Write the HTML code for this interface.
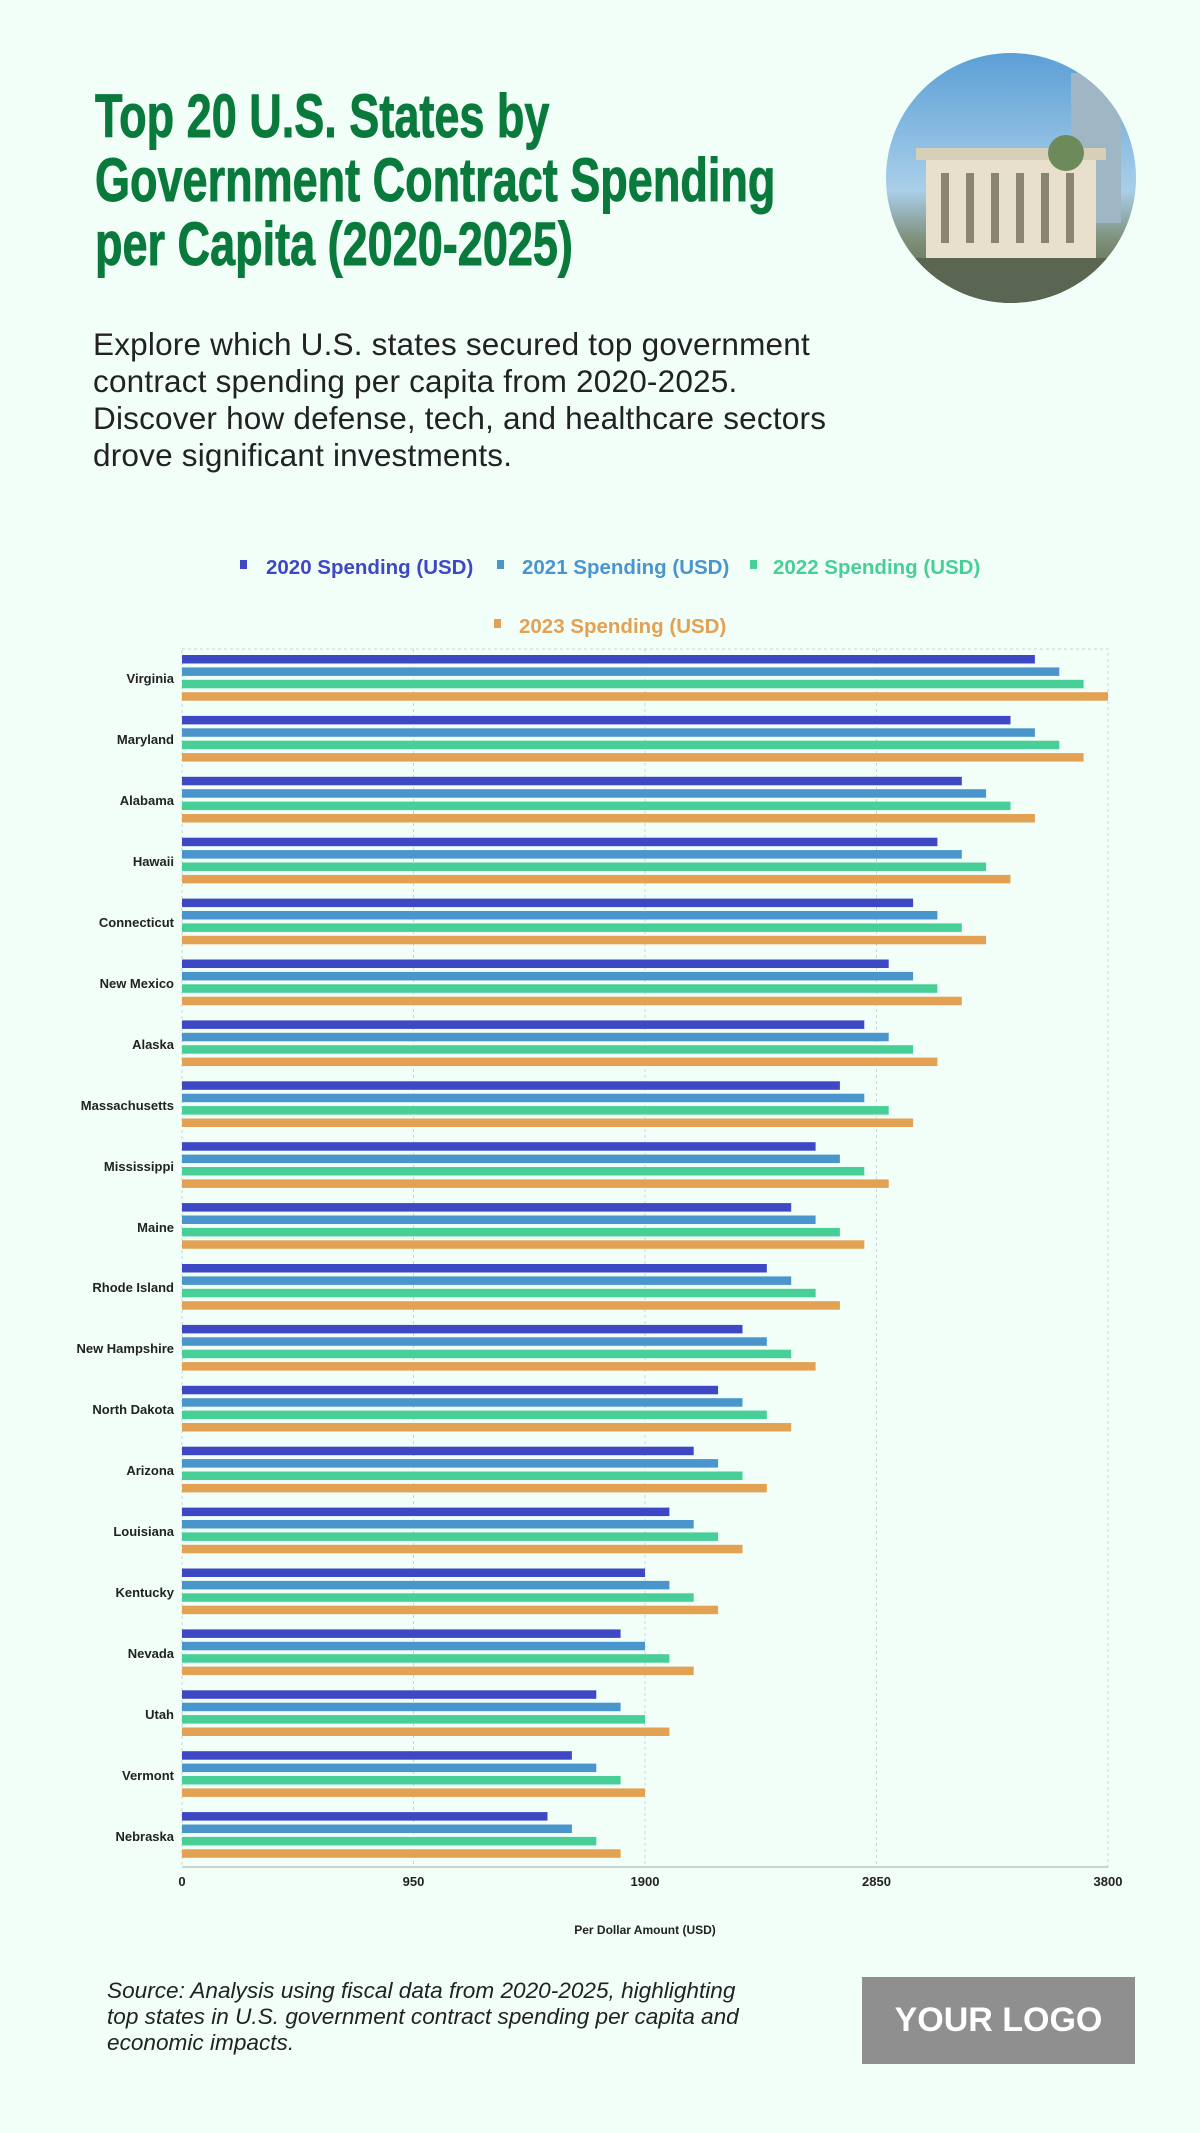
<!DOCTYPE html>
<html><head><meta charset="utf-8">
<style>
body{margin:0;background:#f2fff9;}
.wrap{position:relative;width:1200px;height:2133px;overflow:hidden;background:#f2fff9;font-family:"Liberation Sans",sans-serif;}
.title{position:absolute;left:95px;top:84px;font-weight:bold;font-size:61px;line-height:64px;color:#0a7a3c;transform:scaleX(0.738);transform-origin:top left;white-space:nowrap;-webkit-text-stroke:1px #0a7a3c;}
.sub{position:absolute;left:93px;top:326px;font-size:31.5px;line-height:37px;color:#222;letter-spacing:0.2px;white-space:nowrap;}
.circle{position:absolute;left:886px;top:53px;width:250px;height:250px;border-radius:50%;overflow:hidden;background:linear-gradient(#5c9fd6,#a9cfe9 55%,#7d8f78 75%,#4f5a48);}
.src{position:absolute;left:107px;top:1978px;font-size:22.6px;line-height:26px;font-style:italic;color:#222;white-space:nowrap;}
.logo{position:absolute;left:862px;top:1977px;width:273px;height:87px;background:#8f8f8f;color:#fff;font-weight:bold;font-size:34px;text-align:center;line-height:87px;}
</style></head><body><div class="wrap">
<div class="title">Top 20 U.S. States by<br>Government Contract Spending<br>per Capita (2020-2025)</div>
<div class="sub">Explore which U.S. states secured top government<br>contract spending per capita from 2020-2025.<br>Discover how defense, tech, and healthcare sectors<br>drove significant investments.</div>
<div class="circle">
<svg width="250" height="250"><rect x="185" y="20" width="50" height="150" fill="#9fb6c4"/><rect x="40" y="100" width="170" height="110" fill="#e8e0cc"/><rect x="30" y="95" width="190" height="12" fill="#d8cfb8"/><circle cx="180" cy="100" r="18" fill="#6d8a5a"/><g fill="#8a8470"><rect x="55" y="120" width="8" height="70"/><rect x="80" y="120" width="8" height="70"/><rect x="105" y="120" width="8" height="70"/><rect x="130" y="120" width="8" height="70"/><rect x="155" y="120" width="8" height="70"/><rect x="180" y="120" width="8" height="70"/></g><rect x="0" y="205" width="250" height="45" fill="#5a6652"/></svg>
</div>
<svg style="position:absolute;left:0;top:0" width="1200" height="2133" font-family="Liberation Sans,sans-serif">
<g font-size="20.5" font-weight="bold">
<rect x="240" y="560" width="7" height="9" fill="#3f48c4"/><text x="266" y="574" fill="#3f48c4">2020 Spending (USD)</text>
<rect x="497" y="560" width="7" height="9" fill="#4a95cc"/><text x="522" y="574" fill="#4a95cc">2021 Spending (USD)</text>
<rect x="750" y="560" width="7" height="9" fill="#48cf98"/><text x="773" y="574" fill="#48cf98">2022 Spending (USD)</text>
<rect x="494" y="619" width="7" height="9" fill="#e3a154"/><text x="519" y="633" fill="#e3a154">2023 Spending (USD)</text>
</g>
<g stroke="#c9d6d2" stroke-dasharray="3,3" fill="none">
<rect x="182" y="649" width="926" height="1218"/>
<line x1="413.5" y1="649" x2="413.5" y2="1867"/><line x1="645" y1="649" x2="645" y2="1867"/><line x1="876.5" y1="649" x2="876.5" y2="1867"/>
</g>
<line x1="182" y1="1867" x2="1108" y2="1867" stroke="#9aa" stroke-width="1"/>
<g font-size="13" font-weight="bold" fill="#222" text-anchor="end">
<text x="174" y="683">Virginia</text><text x="174" y="744">Maryland</text><text x="174" y="805">Alabama</text><text x="174" y="866">Hawaii</text><text x="174" y="927">Connecticut</text><text x="174" y="988">New Mexico</text><text x="174" y="1049">Alaska</text><text x="174" y="1110">Massachusetts</text><text x="174" y="1171">Mississippi</text><text x="174" y="1232">Maine</text><text x="174" y="1292">Rhode Island</text><text x="174" y="1353">New Hampshire</text><text x="174" y="1414">North Dakota</text><text x="174" y="1475">Arizona</text><text x="174" y="1536">Louisiana</text><text x="174" y="1597">Kentucky</text><text x="174" y="1658">Nevada</text><text x="174" y="1719">Utah</text><text x="174" y="1780">Vermont</text><text x="174" y="1841">Nebraska</text>
</g>
<g>
<g transform="translate(182,655)"><rect y="0" height="8.5" width="852.9" fill="#3f48c4"/><rect y="12.4" height="8.5" width="877.3" fill="#4a95cc"/><rect y="24.8" height="8.5" width="901.6" fill="#48cf98"/><rect y="37.2" height="8.5" width="926" fill="#e3a154"/></g>
<g transform="translate(182,715.9)"><rect y="0" height="8.5" width="828.5" fill="#3f48c4"/><rect y="12.4" height="8.5" width="852.9" fill="#4a95cc"/><rect y="24.8" height="8.5" width="877.3" fill="#48cf98"/><rect y="37.2" height="8.5" width="901.6" fill="#e3a154"/></g>
<g transform="translate(182,776.8)"><rect y="0" height="8.5" width="779.8" fill="#3f48c4"/><rect y="12.4" height="8.5" width="804.1" fill="#4a95cc"/><rect y="24.8" height="8.5" width="828.5" fill="#48cf98"/><rect y="37.2" height="8.5" width="852.9" fill="#e3a154"/></g>
<g transform="translate(182,837.7)"><rect y="0" height="8.5" width="755.4" fill="#3f48c4"/><rect y="12.4" height="8.5" width="779.8" fill="#4a95cc"/><rect y="24.8" height="8.5" width="804.1" fill="#48cf98"/><rect y="37.2" height="8.5" width="828.5" fill="#e3a154"/></g>
<g transform="translate(182,898.6)"><rect y="0" height="8.5" width="731.1" fill="#3f48c4"/><rect y="12.4" height="8.5" width="755.4" fill="#4a95cc"/><rect y="24.8" height="8.5" width="779.8" fill="#48cf98"/><rect y="37.2" height="8.5" width="804.1" fill="#e3a154"/></g>
<g transform="translate(182,959.5)"><rect y="0" height="8.5" width="706.7" fill="#3f48c4"/><rect y="12.4" height="8.5" width="731.1" fill="#4a95cc"/><rect y="24.8" height="8.5" width="755.4" fill="#48cf98"/><rect y="37.2" height="8.5" width="779.8" fill="#e3a154"/></g>
<g transform="translate(182,1020.4)"><rect y="0" height="8.5" width="682.3" fill="#3f48c4"/><rect y="12.4" height="8.5" width="706.7" fill="#4a95cc"/><rect y="24.8" height="8.5" width="731.1" fill="#48cf98"/><rect y="37.2" height="8.5" width="755.4" fill="#e3a154"/></g>
<g transform="translate(182,1081.3)"><rect y="0" height="8.5" width="657.9" fill="#3f48c4"/><rect y="12.4" height="8.5" width="682.3" fill="#4a95cc"/><rect y="24.8" height="8.5" width="706.7" fill="#48cf98"/><rect y="37.2" height="8.5" width="731.1" fill="#e3a154"/></g>
<g transform="translate(182,1142.2)"><rect y="0" height="8.5" width="633.6" fill="#3f48c4"/><rect y="12.4" height="8.5" width="657.9" fill="#4a95cc"/><rect y="24.8" height="8.5" width="682.3" fill="#48cf98"/><rect y="37.2" height="8.5" width="706.7" fill="#e3a154"/></g>
<g transform="translate(182,1203.1)"><rect y="0" height="8.5" width="609.2" fill="#3f48c4"/><rect y="12.4" height="8.5" width="633.6" fill="#4a95cc"/><rect y="24.8" height="8.5" width="657.9" fill="#48cf98"/><rect y="37.2" height="8.5" width="682.3" fill="#e3a154"/></g>
<g transform="translate(182,1264)"><rect y="0" height="8.5" width="584.8" fill="#3f48c4"/><rect y="12.4" height="8.5" width="609.2" fill="#4a95cc"/><rect y="24.8" height="8.5" width="633.6" fill="#48cf98"/><rect y="37.2" height="8.5" width="657.9" fill="#e3a154"/></g>
<g transform="translate(182,1324.9)"><rect y="0" height="8.5" width="560.5" fill="#3f48c4"/><rect y="12.4" height="8.5" width="584.8" fill="#4a95cc"/><rect y="24.8" height="8.5" width="609.2" fill="#48cf98"/><rect y="37.2" height="8.5" width="633.6" fill="#e3a154"/></g>
<g transform="translate(182,1385.8)"><rect y="0" height="8.5" width="536.1" fill="#3f48c4"/><rect y="12.4" height="8.5" width="560.5" fill="#4a95cc"/><rect y="24.8" height="8.5" width="584.8" fill="#48cf98"/><rect y="37.2" height="8.5" width="609.2" fill="#e3a154"/></g>
<g transform="translate(182,1446.7)"><rect y="0" height="8.5" width="511.7" fill="#3f48c4"/><rect y="12.4" height="8.5" width="536.1" fill="#4a95cc"/><rect y="24.8" height="8.5" width="560.5" fill="#48cf98"/><rect y="37.2" height="8.5" width="584.8" fill="#e3a154"/></g>
<g transform="translate(182,1507.6)"><rect y="0" height="8.5" width="487.4" fill="#3f48c4"/><rect y="12.4" height="8.5" width="511.7" fill="#4a95cc"/><rect y="24.8" height="8.5" width="536.1" fill="#48cf98"/><rect y="37.2" height="8.5" width="560.5" fill="#e3a154"/></g>
<g transform="translate(182,1568.5)"><rect y="0" height="8.5" width="463" fill="#3f48c4"/><rect y="12.4" height="8.5" width="487.4" fill="#4a95cc"/><rect y="24.8" height="8.5" width="511.7" fill="#48cf98"/><rect y="37.2" height="8.5" width="536.1" fill="#e3a154"/></g>
<g transform="translate(182,1629.4)"><rect y="0" height="8.5" width="438.6" fill="#3f48c4"/><rect y="12.4" height="8.5" width="463" fill="#4a95cc"/><rect y="24.8" height="8.5" width="487.4" fill="#48cf98"/><rect y="37.2" height="8.5" width="511.7" fill="#e3a154"/></g>
<g transform="translate(182,1690.3)"><rect y="0" height="8.5" width="414.3" fill="#3f48c4"/><rect y="12.4" height="8.5" width="438.6" fill="#4a95cc"/><rect y="24.8" height="8.5" width="463" fill="#48cf98"/><rect y="37.2" height="8.5" width="487.4" fill="#e3a154"/></g>
<g transform="translate(182,1751.2)"><rect y="0" height="8.5" width="389.9" fill="#3f48c4"/><rect y="12.4" height="8.5" width="414.3" fill="#4a95cc"/><rect y="24.8" height="8.5" width="438.6" fill="#48cf98"/><rect y="37.2" height="8.5" width="463" fill="#e3a154"/></g>
<g transform="translate(182,1812.1)"><rect y="0" height="8.5" width="365.5" fill="#3f48c4"/><rect y="12.4" height="8.5" width="389.9" fill="#4a95cc"/><rect y="24.8" height="8.5" width="414.3" fill="#48cf98"/><rect y="37.2" height="8.5" width="438.6" fill="#e3a154"/></g>
</g>
<g font-size="13" font-weight="bold" fill="#222" text-anchor="middle">
<text x="182" y="1886">0</text><text x="413.5" y="1886">950</text><text x="645" y="1886">1900</text><text x="876.5" y="1886">2850</text><text x="1108" y="1886">3800</text>
<text x="645" y="1934" font-size="12">Per Dollar Amount (USD)</text>
</g>
</svg>
<div class="src">Source: Analysis using fiscal data from 2020-2025, highlighting<br>top states in U.S. government contract spending per capita and<br>economic impacts.</div>
<div class="logo">YOUR LOGO</div>
</div></body></html>
